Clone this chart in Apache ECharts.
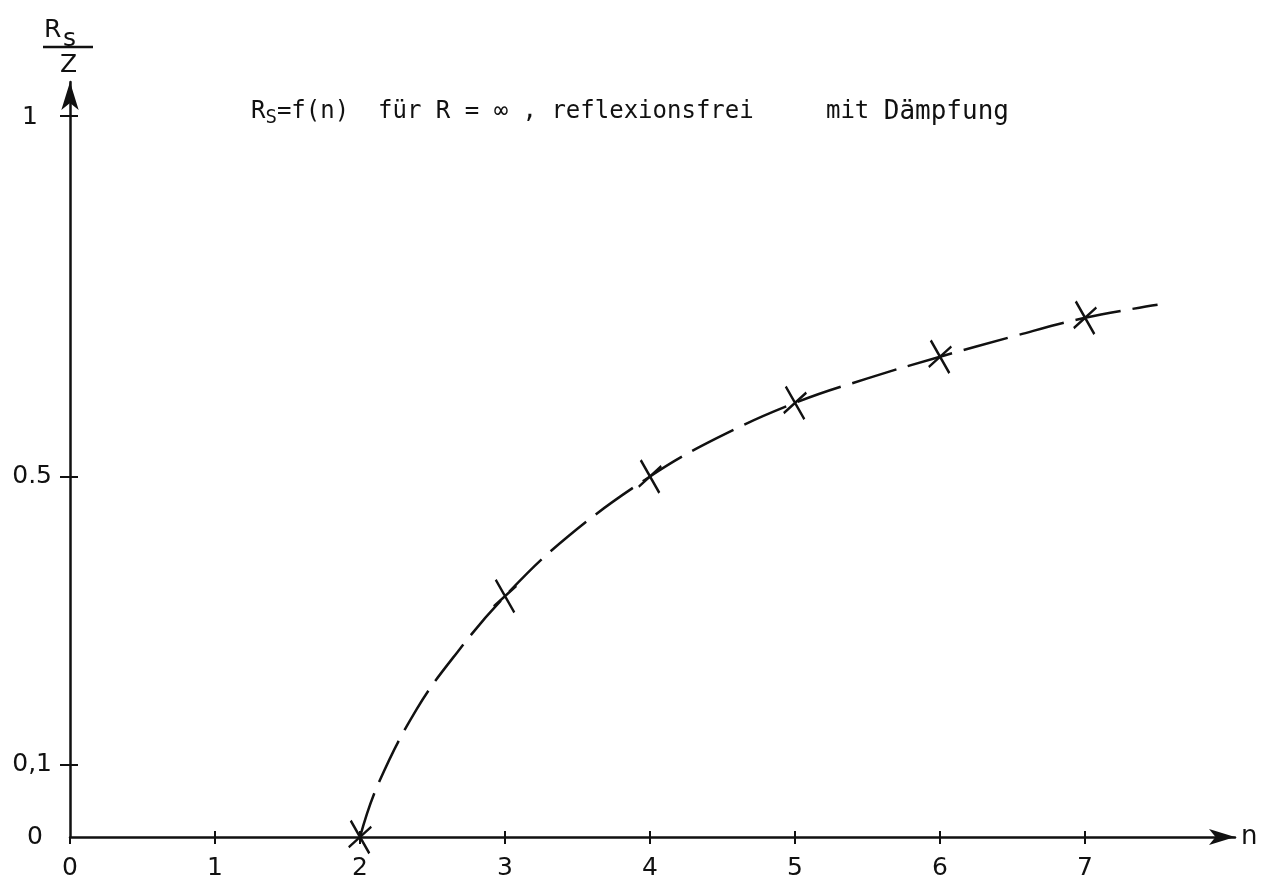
<!DOCTYPE html>
<html>
<head>
<meta charset="utf-8">
<script src="https://cdn.jsdelivr.net/npm/echarts@6/dist/echarts.min.js"></script>
<style>
html,body{margin:0;padding:0;background:#fff;}
#c{width:1263px;height:881px;}
</style>
</head>
<body>
<div id="c"></div>
<script>
// measured points (crosses)
const pointN = [2, 3, 4, 5, 6, 7];
const pointRs = [0, 0.334, 0.5, 0.602, 0.666, 0.72];
// dashed curve
const curveN = [2, 2.12, 2.39, 2.67, 3, 3.43, 4, 4.46, 5, 5.5, 6, 6.5, 7, 7.5];
const curveRs = [0, 0.071, 0.177, 0.256, 0.334, 0.416, 0.5, 0.553, 0.602, 0.636, 0.666, 0.694, 0.72, 0.738];
const xTicks = [0, 1, 2, 3, 4, 5, 6, 7];
const yTicks = [0, 0.1, 0.5, 1];
const yTickLabels = ['0', '0,1', '0.5', '1'];

const FONT = '"DejaVu Sans", sans-serif';
const MONO = '"DejaVu Sans Mono", monospace';
const INK = '#111';

const chart = echarts.init(document.getElementById('c'), null, {renderer: 'canvas'});

const gridL = 70, gridR = 28, gridT = 82, gridB = 43;
const XMAX = 8.034, YMAX = 1.047;
const yLabelPad = [9, 0, 0, 14]; // extra right padding per y label (layout only)

chart.setOption({
  backgroundColor: '#ffffff',
  animation: false,
  grid: {left: gridL, right: gridR, top: gridT, bottom: gridB, containLabel: false},
  xAxis: [{
    type: 'value', min: 0, max: XMAX,
    axisLine: {show: true, lineStyle: {color: INK, width: 2.5}, symbol: ['none', 'arrow'], symbolSize: [12, 26], symbolOffset: [0, 0]},
    axisTick: {show: true, customValues: xTicks, length: 7, lineStyle: {color: INK, width: 2}},
    axisLabel: {show: true, customValues: xTicks, margin: 19, color: INK, fontFamily: FONT, fontSize: 25},
    splitLine: {show: false},
    name: 'n', nameLocation: 'end', nameGap: 6,
    nameTextStyle: {color: INK, fontFamily: FONT, fontSize: 26, verticalAlign: 'middle', padding: [0, 0, 6, 0]}
  }, {
    type: 'value', min: 0, max: XMAX, position: 'bottom',
    axisLine: {show: false},
    axisTick: {show: true, inside: true, customValues: xTicks.filter(v => v > 0), length: 6, lineStyle: {color: INK, width: 2}},
    axisLabel: {show: false}, splitLine: {show: false}
  }],
  yAxis: [{
    type: 'value', min: 0, max: YMAX,
    axisLine: {show: true, lineStyle: {color: INK, width: 2.5}, symbol: ['none', 'arrow'], symbolSize: [13, 28], symbolOffset: [0, 0]},
    axisTick: {show: true, customValues: yTicks.filter(v => v > 0), length: 10, lineStyle: {color: INK, width: 2}},
    axisLabel: {show: true, customValues: yTicks, margin: 18, color: INK, fontFamily: FONT, fontSize: 25,
      rich: {
        p0: {fontFamily: FONT, fontSize: 25, color: INK, padding: [0, yLabelPad[0], 0, 0]},
        p1: {fontFamily: FONT, fontSize: 25, color: INK, padding: [0, yLabelPad[1], 0, 0]},
        p2: {fontFamily: FONT, fontSize: 25, color: INK, padding: [0, yLabelPad[2], 0, 0]},
        p3: {fontFamily: FONT, fontSize: 25, color: INK, padding: [4, yLabelPad[3], 0, 0]}
      },
      formatter: v => { const i = yTicks.findIndex(t => Math.abs(t - v) < 1e-6); return i >= 0 ? '{p' + i + '|' + yTickLabels[i] + '}' : ''; }},
    splitLine: {show: false}
  }, {
    type: 'value', min: 0, max: YMAX, position: 'left',
    axisLine: {show: false},
    axisTick: {show: true, inside: true, customValues: yTicks.filter(v => v > 0), length: 8, lineStyle: {color: INK, width: 2}},
    axisLabel: {show: false}, splitLine: {show: false}
  }],
  title: {
    text: '{t|R}{sub|S}{t|=f(n)  für R = ∞ , reflexionsfrei     mit }{w|Dämpfung}',
    left: 246, top: 92,
    textStyle: {
      rich: {
        t: {fontFamily: MONO, fontSize: 24, fontWeight: 'normal', color: INK, lineHeight: 30},
        w: {fontFamily: MONO, fontSize: 26, fontWeight: 'normal', color: INK, lineHeight: 30},
        sub: {fontFamily: MONO, fontSize: 19, fontWeight: 'normal', color: INK, lineHeight: 30, padding: [12, 0, 0, 0]}
      }
    }
  },
  graphic: [
    {type: 'text', left: 44, top: 18, style: {text: 'R', fill: INK, font: '25px ' + FONT}},
    {type: 'text', left: 63, top: 27, style: {text: 's', fill: INK, font: '25px ' + FONT}},
    {type: 'line', shape: {x1: 43, y1: 47, x2: 93, y2: 47}, style: {stroke: INK, lineWidth: 2.5}},
    {type: 'text', left: 60, top: 53, style: {text: 'Z', fill: INK, font: '25px ' + FONT}}
  ],
  series: [{
    type: 'line',
    data: curveN.map((n, i) => [n, curveRs[i]]),
    smooth: 0.4,
    showSymbol: false,
    lineStyle: {color: INK, width: 2.5, type: [46, 12]},
    z: 2
  }, {
    type: 'scatter',
    data: pointN.map((n, i) => [n, pointRs[i]]),
    symbol: 'path://M0,0L18,24M16,2L2,22',
    symbolSize: [24, 29],
    symbolRotate: -10,
    itemStyle: {color: 'none', borderColor: INK, borderWidth: 2.5, opacity: 1},
    z: 3
  }]
});
</script>
</body>
</html>
